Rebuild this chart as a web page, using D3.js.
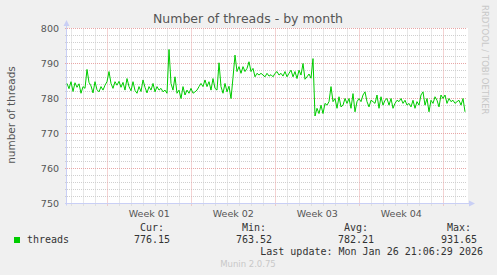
<!DOCTYPE html>
<html>
<head>
<meta charset="utf-8">
<script src="https://cdn.jsdelivr.net/npm/d3@7"></script>
<style>
body { margin: 0; background: #f0f0f0; }
svg { display: block; }
text { font-family: "DejaVu Sans", sans-serif; fill: #555; }
.mono { font-family: "DejaVu Sans Mono", monospace; fill: #333; font-size: 10px; }
</style>
</head>
<body>
<script>
const width = 497
const height = 275
const plotLeft = 67
const plotRight = 467
const plotTop = 28.5
const plotBottom = 203.5

// data: one sample every 4 hours, starting at the left edge of the graph
const startTime = Date.UTC(2025, 11, 24, 15, 20)
const endTime = Date.UTC(2026, 0, 26, 23, 20)
const stepHours = 4
const threads = [
    784.3, 782.8, 784.8, 782.0, 784.5, 783.2, 784.2, 781.5, 783.4, 782.9,
    788.3, 784.6, 783.6, 781.6, 784.8, 782.5, 781.9, 783.4, 782.4, 783.8,
    784.8, 787.7, 784.3, 782.9, 784.8, 783.8, 784.9, 783.2, 784.6, 782.4,
    785.7, 783.4, 782.2, 784.8, 782.3, 781.5, 783.4, 782.0, 785.3, 783.2,
    781.6, 783.4, 782.4, 784.3, 781.9, 783.4, 782.4, 782.9, 781.9, 782.4,
    781.5, 794.0, 784.3, 782.4, 786.2, 781.5, 782.4, 780.0, 783.4, 781.0,
    782.4, 781.5, 782.9, 781.5, 781.9, 782.4, 783.4, 784.3, 783.4, 785.3,
    783.4, 784.8, 782.4, 785.7, 782.9, 782.4, 790.2, 783.4, 781.5, 784.3,
    781.9, 783.5, 780.0, 786.0, 792.4, 787.7, 789.1, 787.2, 789.1, 787.7,
    788.6, 790.5, 787.7, 788.6, 786.2, 787.2, 786.7, 787.2, 786.7, 786.2,
    787.2, 786.4, 786.8, 786.2, 787.2, 787.7, 786.7, 787.2, 786.4, 787.7,
    786.2, 787.2, 788.1, 786.2, 787.7, 785.7, 788.1, 786.7, 790.0, 785.5,
    786.2, 787.0, 785.8, 791.4, 775.0, 777.2, 775.7, 778.1, 775.7, 778.6,
    778.1, 779.1, 783.4, 779.1, 780.0, 777.2, 780.5, 777.6, 778.1, 780.0,
    778.6, 780.0, 777.2, 781.4, 776.2, 779.1, 780.0, 779.1, 781.0, 781.9,
    779.1, 777.6, 779.5, 779.1, 778.6, 781.0, 777.2, 780.5, 778.1, 779.5,
    780.0, 778.1, 780.0, 777.2, 778.6, 779.5, 779.1, 780.0, 778.6, 779.5,
    778.1, 778.6, 777.6, 779.5, 777.2, 779.1, 778.1, 781.0, 781.9, 778.1,
    780.0, 776.2, 779.5, 778.6, 780.5, 779.5, 777.6, 781.0, 780.0, 781.0,
    778.6, 780.0, 779.1, 779.5, 778.6, 779.1, 779.5, 778.1, 780.0, 776.2
]
const weekLabels = ["Week 01", "Week 02", "Week 03", "Week 04"]
const yDomain = [750, 800]
const statNames = ["Cur:", "Min:", "Avg:", "Max:"]
const statValues = ["776.15", "763.52", "782.21", "931.65"]
const seriesName = "threads"
const lastUpdate = "Last update: Mon Jan 26 21:06:29 2026"

const svg = d3.select("body")
    .append("svg")
    .attr("width", width)
    .attr("height", height)

const x = d3.scaleTime()
    .domain([new Date(startTime), new Date(endTime)])
    .range([plotLeft, plotRight])
const y = d3.scaleLinear()
    .domain(yDomain)
    .range([plotBottom, plotTop])

svg.append("rect")
    .attr("x", plotLeft)
    .attr("y", plotTop - 0.5)
    .attr("width", plotRight - plotLeft + 1)
    .attr("height", plotBottom - plotTop + 1)
    .attr("fill", "#fff")

const minorColor = "#cfcfcf"
const majorColor = "#e8a6a6"

// minor grid
for (let v of y.ticks(25)) {
    if (v % 10 == 0) continue
    svg.append("line")
        .attr("x1", plotLeft - 2).attr("x2", plotRight)
        .attr("y1", y(v)).attr("y2", y(v))
        .attr("stroke", minorColor)
        .attr("stroke-dasharray", "1,1")
}
for (let d of x.ticks(d3.utcDay.every(1))) {
    if (d.getUTCDay() == 0) continue
    let px = Math.floor(x(d)) + 0.5
    svg.append("line")
        .attr("x1", px).attr("x2", px)
        .attr("y1", plotTop).attr("y2", plotBottom + 2)
        .attr("stroke", minorColor)
        .attr("stroke-dasharray", "1,1")
}
// major grid
for (let v of y.ticks(5)) {
    svg.append("line")
        .attr("x1", plotLeft - 2).attr("x2", plotRight)
        .attr("y1", y(v)).attr("y2", y(v))
        .attr("stroke", majorColor)
        .attr("stroke-dasharray", "1,1")
    svg.append("text")
        .attr("x", 59)
        .attr("y", y(v) + 3.5)
        .attr("text-anchor", "end")
        .style("font-size", "9.5px")
        .text(v)
}
const weeks = x.ticks(d3.utcSunday.every(1))
for (let d of weeks) {
    let px = Math.floor(x(d)) + 0.5
    svg.append("line")
        .attr("x1", px).attr("x2", px)
        .attr("y1", plotTop).attr("y2", plotBottom + 2)
        .attr("stroke", majorColor)
        .attr("stroke-dasharray", "1,1")
}
weekLabels.forEach((label, i) => {
    let mid = new Date(+weeks[i] + 3.5 * 864e5)
    svg.append("text")
        .attr("x", x(mid))
        .attr("y", 217)
        .attr("text-anchor", "middle")
        .style("font-size", "9.5px")
        .text(label)
})

// axes with arrows
const axisColor = "#c9cff5"
svg.append("line")
    .attr("x1", plotLeft - 0.5).attr("x2", plotLeft - 0.5)
    .attr("y1", plotBottom + 2).attr("y2", 24)
    .attr("stroke", axisColor)
svg.append("line")
    .attr("x1", plotLeft - 2).attr("x2", plotRight + 3)
    .attr("y1", plotBottom).attr("y2", plotBottom)
    .attr("stroke", axisColor)
svg.append("polygon")
    .attr("points", [[plotLeft - 3.5, 26], [plotLeft + 2.5, 26], [plotLeft - 0.5, 20]].join(" "))
    .attr("fill", axisColor)
svg.append("polygon")
    .attr("points", [[plotRight + 2, plotBottom - 3], [plotRight + 2, plotBottom + 3], [plotRight + 8, plotBottom]].join(" "))
    .attr("fill", axisColor)

// series line
const line = d3.line()
    .x((v, i) => x(new Date(startTime + i * stepHours * 36e5)))
    .y(v => y(v))
svg.append("path")
    .datum(threads)
    .attr("d", line)
    .attr("fill", "none")
    .attr("stroke", "#00cc00")
    .attr("stroke-width", 1)

// titles
svg.append("text")
    .attr("x", 248)
    .attr("y", 23)
    .attr("text-anchor", "middle")
    .style("font-size", "12.5px")
    .text("Number of threads - by month")
svg.append("text")
    .attr("transform", "translate(15,115) rotate(-90)")
    .attr("text-anchor", "middle")
    .style("font-size", "10.5px")
    .text("number of threads")
svg.append("text")
    .attr("transform", "translate(482,5) rotate(90)")
    .style("font-size", "8.5px")
    .style("fill", "#c8c8c8")
    .text("RRDTOOL / TOBI OETIKER")

// legend
svg.append("rect")
    .attr("x", 14).attr("y", 237)
    .attr("width", 6).attr("height", 6)
    .attr("fill", "#00cc00")
svg.append("text")
    .attr("class", "mono")
    .attr("x", 27).attr("y", 243)
    .text(seriesName)
const statRight = [170, 272, 374, 477]
statNames.forEach((name, i) => {
    svg.append("text")
        .attr("class", "mono")
        .attr("x", statRight[i] - 6).attr("y", 231)
        .attr("text-anchor", "end")
        .text(name)
    svg.append("text")
        .attr("class", "mono")
        .attr("x", statRight[i]).attr("y", 243)
        .attr("text-anchor", "end")
        .text(statValues[i])
})
svg.append("text")
    .attr("class", "mono")
    .attr("x", 483).attr("y", 255)
    .attr("text-anchor", "end")
    .text(lastUpdate)
svg.append("text")
    .attr("x", 248).attr("y", 267)
    .attr("text-anchor", "middle")
    .style("font-size", "8.5px")
    .style("fill", "#c8c8c8")
    .text("Munin 2.0.75")
</script>
</body>
</html>
